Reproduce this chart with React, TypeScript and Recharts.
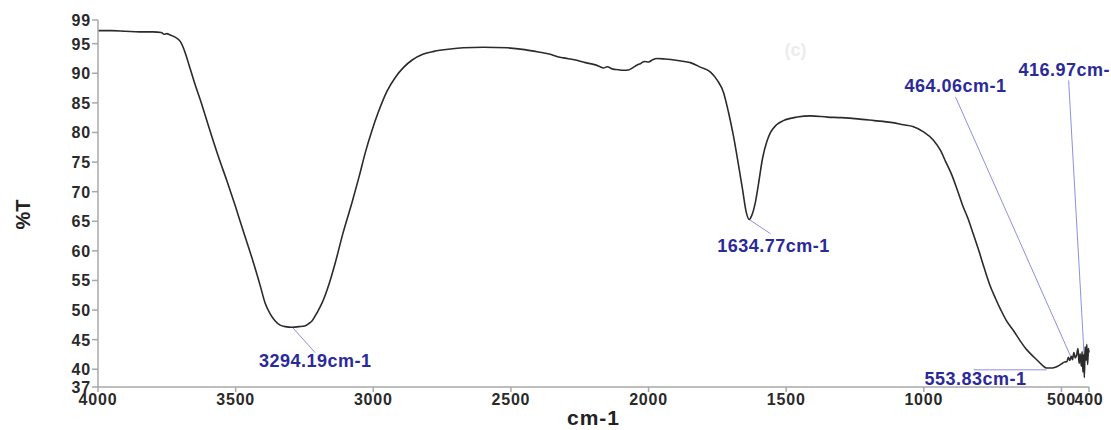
import { LineChart, Line, XAxis, YAxis, ReferenceLine, ReferenceDot } from "recharts";

// FTIR spectrum (c): wavenumber (cm-1) vs transmittance (%T)
const wavenumbers = [
  4000, 3950, 3900, 3850, 3800, 3770, 3760, 3750, 3740, 3720, 3700, 3690, 3680, 3670, 3650,
  3622, 3600, 3564, 3530, 3502, 3470, 3440, 3410, 3393, 3375, 3357, 3340, 3320, 3294.19, 3270,
  3250, 3235, 3222, 3205, 3186, 3160, 3138, 3110, 3077, 3050, 3029, 3005, 2982, 2950, 2920,
  2890, 2860, 2820, 2780, 2720, 2673, 2600, 2513, 2450, 2400, 2357, 2330, 2310, 2270, 2230,
  2200, 2180, 2164, 2150, 2130, 2110, 2092, 2070, 2055, 2041, 2030, 2015, 2000, 1985, 1968,
  1940, 1900, 1870, 1848, 1810, 1775, 1750, 1728, 1710, 1692, 1675, 1659, 1645, 1634.77, 1625,
  1612, 1600, 1586, 1570, 1557, 1535, 1510, 1460, 1412, 1350, 1300, 1241, 1180, 1120, 1074,
  1040, 1001, 965, 940, 920, 900, 880, 860, 840, 820, 800, 780, 760, 740, 720,
  700, 674, 650, 630, 612, 590, 570, 553.83, 540, 525, 514, 500, 490, 480, 475,
  470, 464.06, 460, 455, 450, 445, 440, 436, 432, 428, 425, 422, 419, 416.97, 414,
  411, 408, 405, 402, 400,
];
const transmittance = [
  97.2, 97.2, 97.1, 97.0, 97.0, 96.9, 96.6, 96.7, 96.5, 96.1, 95.3, 94.3, 93.0, 91.5, 88.5,
  84.6, 81.3, 76.1, 71.6, 67.7, 63.0, 58.7, 54.0, 51.2, 49.4, 48.2, 47.5, 47.2, 47.1, 47.2,
  47.3, 47.7, 48.2, 49.5, 51.2, 54.5, 58.0, 63.0, 68.2, 72.8, 76.6, 80.3, 83.4, 87.0, 89.3,
  91.0, 92.2, 93.2, 93.7, 94.1, 94.3, 94.4, 94.3, 94.0, 93.6, 93.2, 92.8, 92.6, 92.3, 91.8,
  91.5, 91.2, 90.9, 91.1, 90.7, 90.6, 90.5, 90.6, 91.0, 91.4, 91.6, 92.0, 91.9, 92.3, 92.5,
  92.4, 92.2, 92.0, 91.8, 91.0, 90.2, 88.8, 86.8, 83.5, 79.5, 75.0, 70.5, 66.5, 65.3, 66.0,
  68.2, 71.5, 75.6, 78.5, 80.0, 81.3, 82.0, 82.6, 82.8, 82.6, 82.5, 82.3, 82.0, 81.7, 81.3,
  81.0, 80.1, 78.7, 77.0, 75.0, 73.0, 70.5, 67.8, 65.5, 62.8, 60.0, 57.0, 54.2, 52.0, 50.0,
  48.2, 46.5, 44.8, 43.5, 42.6, 41.6, 40.7, 40.2, 40.2, 40.3, 40.5, 40.9, 41.2, 41.3, 42.0,
  41.5, 42.2, 41.6, 42.8, 41.9, 42.4, 43.5, 41.0, 42.6, 40.5, 43.0, 39.5, 42.5, 38.6, 43.8,
  41.5, 44.2, 40.8, 43.5, 42.8,
];

const xTicks = [4000, 3500, 3000, 2500, 2000, 1500, 1000, 500, 400];
const yTicks = [37, 40, 45, 50, 55, 60, 65, 70, 75, 80, 85, 90, 95, 99];

// peak annotations: leader line from peak to label, then the label text
const peakLabels = ["3294.19cm-1", "1634.77cm-1", "553.83cm-1", "464.06cm-1", "416.97cm-1"];
const peakX = [3294.19, 1634.77, 553.83, 464.06, 416.97];
const peakY = [47.1, 65.3, 39.9, 41.9, 41.7];
const leaderX = [3211, 1557, 819, 885, 474];
const leaderY = [42.8, 62.9, 39.9, 86.0, 88.8];
const labelX = [3211, 1546, 812, 885, 656];
const labelY = [41.4, 60.9, 38.4, 87.8, 90.6];
const labelAnchor = ["middle", "middle", "middle", "middle", "start"];

const data = wavenumbers.map((wn, i) => ({ wn, t: transmittance[i] }));

const FONT = "Liberation Sans, Arial, sans-serif";

const XTick = (props: any) => {
  const { x, y, payload } = props;
  return (
    <text x={x} y={y} dy={12} textAnchor="middle" fill="#2a2a2a" fontSize={16} fontWeight="bold" fontFamily={FONT} letterSpacing={0.8}>
      {payload.value}
    </text>
  );
};

const YTick = (props: any) => {
  const { x, y, payload } = props;
  return (
    <text x={x} y={y} dy={6} textAnchor="end" fill="#2a2a2a" fontSize={16} fontWeight="bold" fontFamily={FONT} letterSpacing={0.8}>
      {payload.value}
    </text>
  );
};

export default function App() {
  return (
    <div style={{ width: 1111, height: 430, overflow: "hidden", background: "#fff" }}>
      <style>{`body{margin:0}`}</style>
      <LineChart width={1111} height={430} data={data} margin={{ top: 20, right: 22, bottom: 0, left: 0 }}>
        <XAxis
          type="number"
          dataKey="wn"
          domain={[400, 4000]}
          reversed
          ticks={xTicks}
          interval={0}
          height={43}
          tickSize={5}
          tickMargin={1}
          stroke="#a8a8a8"
          strokeWidth={1.5}
          tick={<XTick />}
          label={{
            value: "cm-1",
            position: "insideBottom",
            offset: 5,
            style: { fill: "#222", fontSize: 21, fontWeight: 700, fontFamily: FONT, letterSpacing: 1 },
          }}
        />
        <YAxis
          domain={[37, 99]}
          ticks={yTicks}
          interval={0}
          width={98}
          tickSize={6}
          tickMargin={1}
          stroke="#a8a8a8"
          strokeWidth={1.5}
          tick={<YTick />}
          allowDataOverflow
          label={{
            value: "%T",
            content: (props: any) => {
              const vb = props.viewBox || { x: 0, y: 20, height: 367 };
              const cx = 23;
              const cy = vb.y + vb.height / 2 + 11;
              return (
                <text
                  x={cx}
                  y={cy}
                  transform={`rotate(-90, ${cx}, ${cy})`}
                  textAnchor="middle"
                  dominantBaseline="central"
                  fill="#222"
                  fontSize={20}
                  fontWeight={700}
                  fontFamily={FONT}
                >
                  %T
                </text>
              );
            },
          }}
        />
        {peakLabels.map((lbl, i) => (
          <ReferenceLine
            key={"l" + lbl}
            segment={[
              { x: peakX[i], y: peakY[i] },
              { x: leaderX[i], y: leaderY[i] },
            ]}
            stroke="#8f8fe0"
            strokeWidth={1}
          />
        ))}
        <Line
          type="monotone"
          dataKey="t"
          stroke="#2b2b2b"
          strokeWidth={1.6}
          dot={false}
          isAnimationActive={false}
        />
        {peakLabels.map((lbl, i) => (
          <ReferenceDot
            key={"t" + lbl}
            x={labelX[i]}
            y={labelY[i]}
            r={0}
            ifOverflow="visible"
            shape={(p: any) => (
              <text
                x={p.cx}
                y={p.cy}
                textAnchor={labelAnchor[i] as any}
                dominantBaseline="central"
                fill="#2a2a9a"
                fontSize={18}
                fontWeight={700}
                fontFamily={FONT}
                letterSpacing={0.5}
              >
                {lbl}
              </text>
            )}
          />
        ))}
        <ReferenceDot
          x={1466}
          y={93.9}
          r={0}
          ifOverflow="visible"
          shape={(p: any) => (
            <text x={p.cx} y={p.cy} textAnchor="middle" dominantBaseline="central" fill="#ececec" fontSize={18} fontWeight={700} fontFamily={FONT}>
              (c)
            </text>
          )}
        />
      </LineChart>
    </div>
  );
}
